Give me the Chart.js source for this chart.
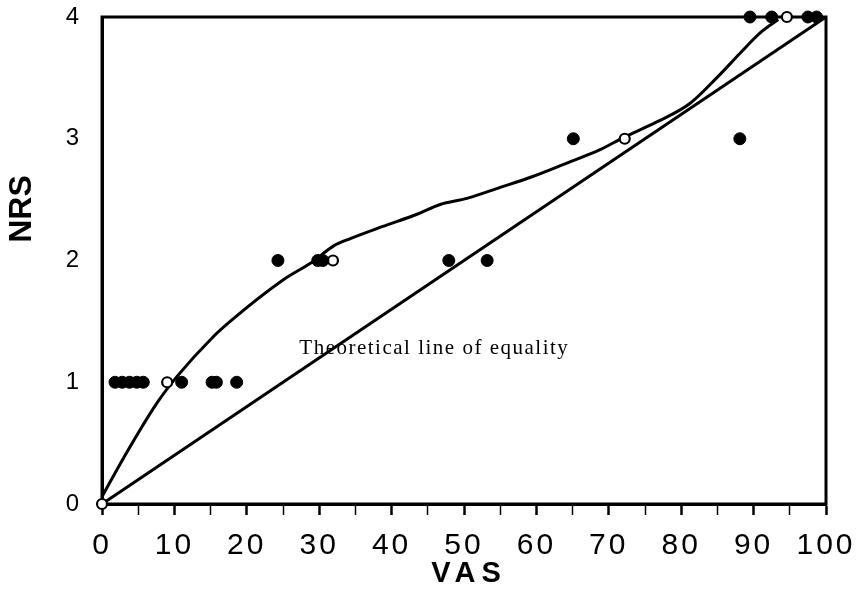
<!DOCTYPE html>
<html>
<head>
	<title>NRS vs VAS</title>
	<script src="https://cdn.jsdelivr.net/npm/chart.js@4/dist/chart.umd.min.js"></script>
	<style>
		body { margin: 0; background: #fff; }
	</style>
</head>
<body>
	<canvas id="myChart" width="863" height="593"></canvas>
	<script>
		// filled dots
		var filledX = [1.8, 2.8, 3.8, 4.8, 5.7, 11.0, 15.2, 15.8, 18.6, 24.3, 29.8, 30.5, 47.9, 53.2, 65.1, 88.1, 89.5, 92.5, 97.5, 98.7];
		var filledY = [1, 1, 1, 1, 1, 1, 1, 1, 1, 2, 2, 2, 2, 2, 3, 3, 4, 4, 4, 4];
		// open dots
		var openX = [0, 9.0, 31.9, 72.2, 94.6];
		var openY = [0, 1, 2, 3, 4];
		// fitted curve
		var curveX = [0, 3, 7.6, 10.4, 15.3, 17.7, 25, 29.1, 32, 34.3, 38.8, 43.5, 46.7, 50.4, 55, 59.5, 64.2, 68.8, 72, 76.7, 81.2, 84.9, 88.1, 90.9, 93.4];
		var curveY = [0.06, 0.38, 0.83, 1.05, 1.37, 1.50, 1.84, 1.99, 2.12, 2.18, 2.28, 2.38, 2.46, 2.51, 2.60, 2.69, 2.80, 2.91, 3.01, 3.14, 3.29, 3.50, 3.70, 3.87, 3.98];
		// line of equality
		var equalX = [0, 100];
		var equalY = [0, 4];
		var xTicks = [0, 10, 20, 30, 40, 50, 60, 70, 80, 90, 100];
		var yTicks = [0, 1, 2, 3, 4];

		function pts(xs, ys) {
			return xs.map(function (x, i) { return { x: x, y: ys[i] }; });
		}

		var spacing = {
			id: 'spacing',
			beforeLayout: function (chart) { chart.ctx.letterSpacing = '3px'; },
			beforeDraw: function (chart) { chart.ctx.letterSpacing = '3px'; }
		};

		var extras = {
			id: 'extras',
			beforeDatasetsDraw: function (chart) {
				var a = chart.chartArea, ctx = chart.ctx;
				ctx.save();
				ctx.strokeStyle = '#000';
				ctx.lineWidth = 3;
				ctx.strokeRect(a.left, a.top, a.right - a.left, a.bottom - a.top);
				ctx.restore();
			},
			afterDraw: function (chart) {
				var ctx = chart.ctx, xs = chart.scales.x, ys = chart.scales.y;
				ctx.save();
				ctx.fillStyle = '#000';
				ctx.textAlign = 'center';
				ctx.textBaseline = 'middle';
				// annotation
				ctx.letterSpacing = '1.5px';
				ctx.font = '21px "Liberation Serif", "Times New Roman", serif';
				ctx.fillText('Theoretical line of equality', xs.getPixelForValue(45.9), ys.getPixelForValue(1.28));
				// VAS
				ctx.letterSpacing = '6px';
				ctx.font = 'bold 29px "Liberation Sans", Arial, sans-serif';
				ctx.fillText('VAS', 469, 574);
				// NRS
				ctx.letterSpacing = '0px';
				ctx.font = 'bold 32px "Liberation Sans", Arial, sans-serif';
				ctx.translate(22, 209);
				ctx.rotate(-Math.PI / 2);
				ctx.fillText('NRS', 0, 0);
				ctx.restore();
			}
		};

		var ctx = document.getElementById('myChart').getContext('2d');
		var myChart = new Chart(ctx, {
			type: 'scatter',
			data: {
				datasets: [{
					label: 'Filled',
					data: pts(filledX, filledY),
					pointRadius: 6,
					pointBackgroundColor: '#000',
					pointBorderColor: '#000',
					pointBorderWidth: 1,
					showLine: false,
					clip: false,
					order: 0
				}, {
					label: 'Open',
					data: pts(openX, openY),
					pointRadius: 5,
					pointBackgroundColor: '#fff',
					pointBorderColor: '#000',
					pointBorderWidth: 2.2,
					showLine: false,
					clip: false,
					order: 0
				}, {
					label: 'Curve',
					data: pts(curveX, curveY),
					showLine: true,
					borderColor: '#000',
					borderWidth: 3,
					pointRadius: 0,
					cubicInterpolationMode: 'monotone',
					clip: false,
					order: 1
				}, {
					label: 'Equality',
					data: pts(equalX, equalY),
					showLine: true,
					borderColor: '#000',
					borderWidth: 3,
					pointRadius: 0,
					clip: false,
					order: 2
				}]
			},
			options: {
				responsive: false,
				animation: false,
				events: [],
				layout: { padding: { top: 17, right: 37, left: 0, bottom: 0 } },
				plugins: { legend: { display: false }, tooltip: { enabled: false } },
				scales: {
					x: {
						type: 'linear',
						min: 0,
						max: 100,
						afterFit: function (s) {
							s.height = 89;
							s.paddingLeft = 0; s.paddingRight = 0;
						},
						afterBuildTicks: function (s) {
							var t = [];
							for (var v = 0; v <= 100; v += 5) t.push({ value: v });
							s.ticks = t;
						},
						ticks: {
							color: '#000',
							padding: 13,
							maxRotation: 0,
							autoSkip: false,
							font: { family: '"Liberation Sans", Arial, sans-serif', size: 30 },
							callback: function (v) { return xTicks.indexOf(v) >= 0 ? String(v) : ''; }
						},
						grid: {
							drawOnChartArea: false,
							drawTicks: true,
							tickLength: 11,
							tickColor: '#000',
							tickWidth: function (c) { return c.tick && c.tick.value % 10 === 0 ? 2.5 : 1.5; }
						},
						border: { color: '#000', width: 3 }
					},
					y: {
						type: 'linear',
						min: 0,
						max: 4,
						afterFit: function (s) {
							s.width = 102;
							s.paddingTop = 0; s.paddingBottom = 0;
						},
						afterBuildTicks: function (s) {
							s.ticks = yTicks.map(function (v) { return { value: v }; });
						},
						ticks: {
							color: '#000',
							padding: 20,
							font: { family: '"Liberation Sans", Arial, sans-serif', size: 24 }
						},
						grid: { display: false, drawTicks: false },
						border: { color: '#000', width: 3 }
					}
				}
			},
			plugins: [spacing, extras]
		});
	</script>
</body>
</html>
